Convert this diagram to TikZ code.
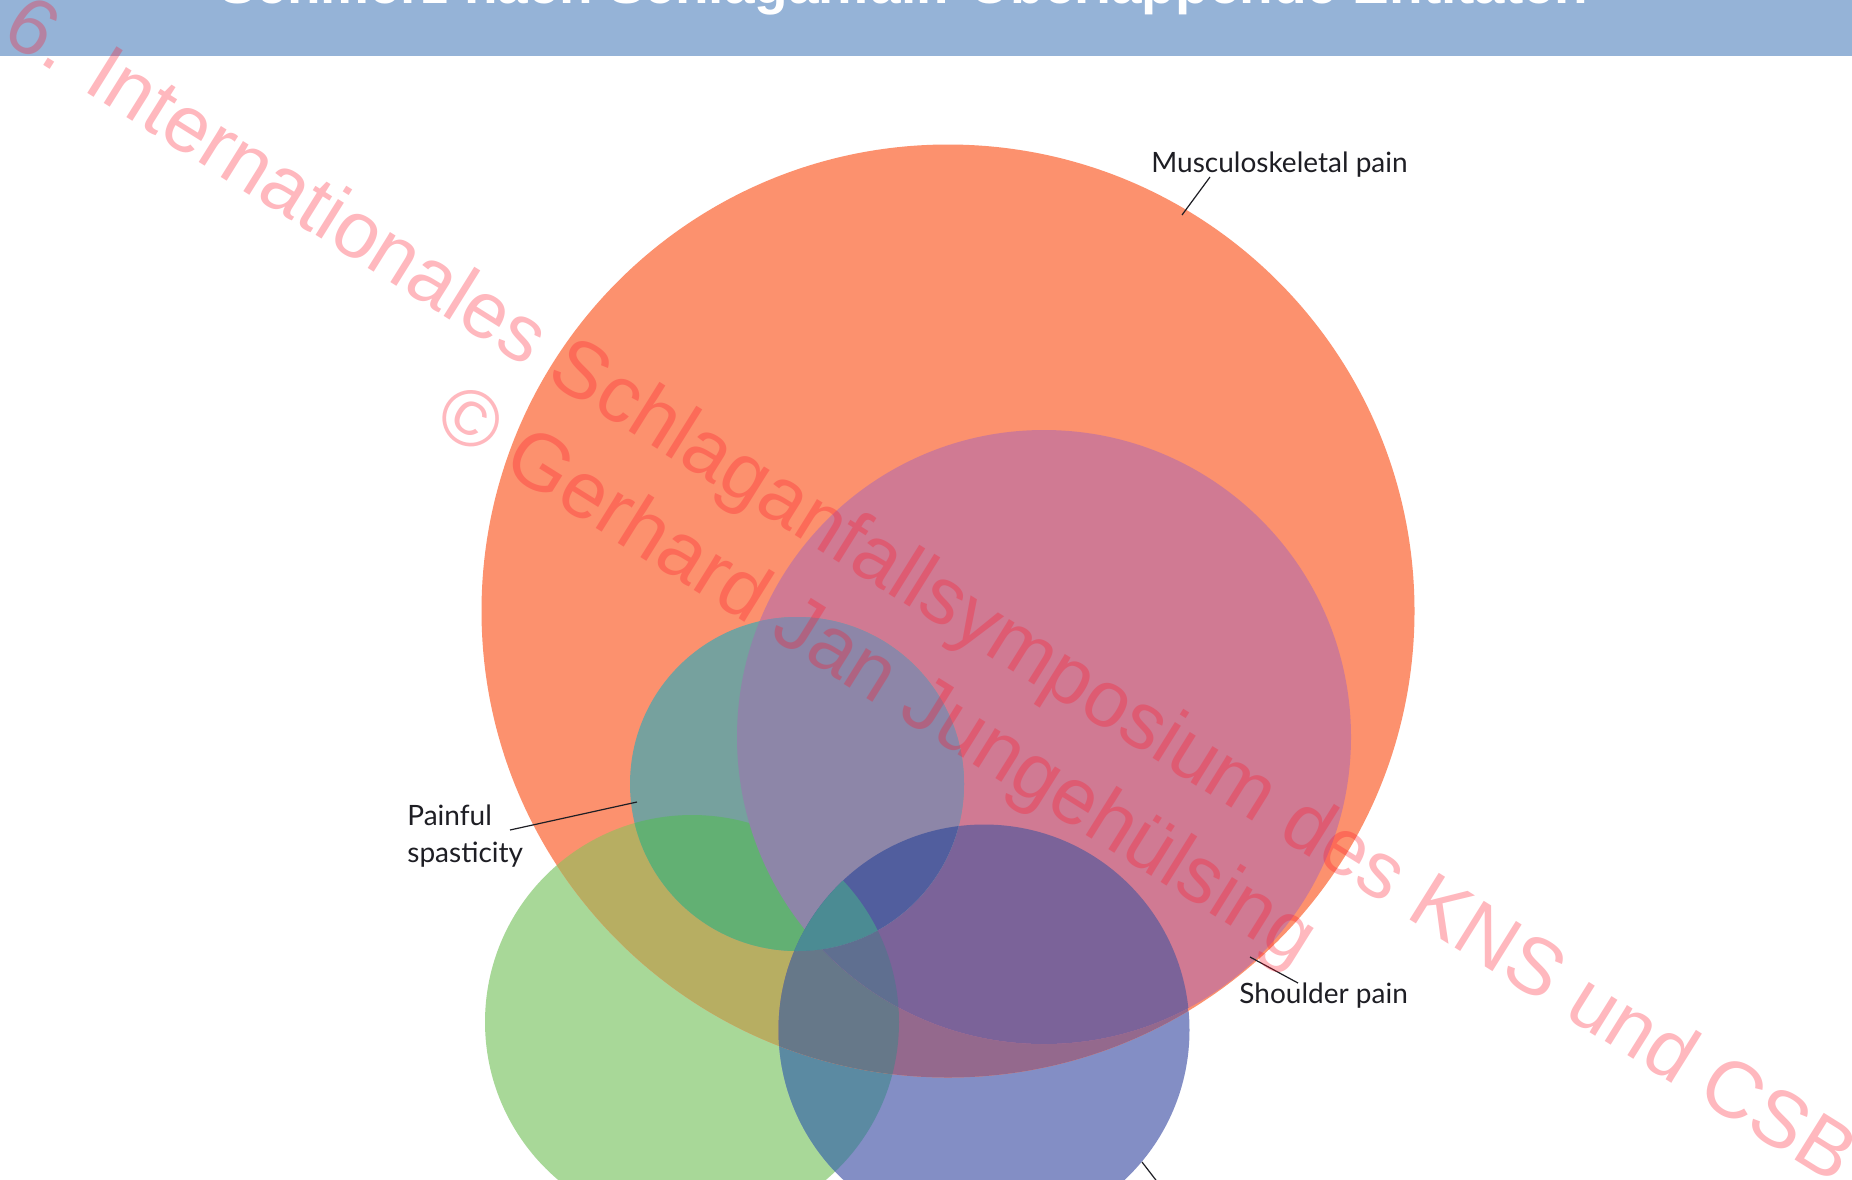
\documentclass[tikz,border=0pt]{standalone}
\usepackage{fontspec}
\setmainfont{Lato}
\newfontfamily\wmfont{Liberation Sans}
\newfontfamily\titlefont{Liberation Sans}
\definecolor{barblue}{HTML}{95B3D7}
\definecolor{cO}{HTML}{FC916E}
\definecolor{cPO}{HTML}{D07A93}
\definecolor{cTO}{HTML}{76A19E}
\definecolor{cTPO}{HTML}{8D86A8}
\definecolor{cG}{HTML}{A8D898}
\definecolor{cB}{HTML}{838EC5}
\definecolor{cGB}{HTML}{5B8AA2}
\definecolor{cGO}{HTML}{B7AE62}
\definecolor{cBO}{HTML}{94698D}
\definecolor{cGBO}{HTML}{667889}
\definecolor{cPB}{HTML}{7B6399}
\definecolor{cPGB}{HTML}{5F6F90}
\definecolor{cTG}{HTML}{62B073}
\definecolor{cTB}{HTML}{515E9E}
\definecolor{cTGB}{HTML}{4B8B93}
\definecolor{wmred}{RGB}{255,20,40}
\definecolor{ink}{HTML}{1E1E24}
\def\cirO{(948,611) circle[radius=233.25pt]}
\def\cirP{(1044,737) circle[radius=153.5pt]}
\def\cirT{(797,784) circle[radius=83.5pt]}
\def\cirG{(692,1022) circle[radius=103.5pt]}
\def\cirB{(984,1030) circle[radius=102.75pt]}
\begin{document}
\begin{tikzpicture}[x=0.5pt,y=-0.5pt,
  lead/.style={draw=ink, line width=0.6pt},
  lbl/.style={font=\fontsize{14}{17}\selectfont, text=ink, inner sep=0pt},
  wm/.style={font=\wmfont\fontsize{40}{48}\selectfont, text=wmred, text opacity=0.3, inner sep=0pt, rotate=-32}]
\useasboundingbox (0,0) rectangle (1852,1179);
\clip (0,0) rectangle (1852,1179);
\fill[white] (0,0) rectangle (1852,1179);
% title bar
\fill[barblue] (0,0) rectangle (1852,56);
\node[anchor=base, font=\titlefont\bfseries\fontsize{27.5}{31}\selectfont, text=white, inner sep=0pt] (title) at (904,3) {Schmerz nach Schlaganfall: Überlappende Entitäten};
% circles
\fill[cG] \cirG;
\fill[cB] \cirB;
\begin{scope}\clip \cirG; \fill[cGB] \cirB; \end{scope}
\fill[cO] \cirO;
\begin{scope}
  \clip \cirO;
  \begin{scope}\clip \cirG; \fill[cGO] \cirG; \end{scope}
  \begin{scope}\clip \cirB; \fill[cBO] \cirB; \end{scope}
  \begin{scope}\clip \cirG; \fill[cGBO] \cirB; \end{scope}
  \fill[cPO] \cirP;
  \begin{scope}\clip \cirP; \fill[cPB] \cirB; \end{scope}
  \begin{scope}\clip \cirP; \clip \cirG; \fill[cPGB] \cirB; \end{scope}
  \fill[cTO] \cirT;
  \begin{scope}\clip \cirT; \fill[cTG] \cirG; \end{scope}
  \begin{scope}\clip \cirT; \fill[cTPO] \cirP; \end{scope}
  \begin{scope}\clip \cirT; \fill[cTB] \cirB; \end{scope}
  \begin{scope}\clip \cirT; \clip \cirG; \fill[cTGB] \cirB; \end{scope}
\end{scope}
% circle anchors (invisible nodes)
\node[circle, minimum size=466.5pt, inner sep=0pt] (musc) at (948,611) {};
\node[circle, minimum size=307pt, inner sep=0pt] (shoulder) at (1044,737) {};
\node[circle, minimum size=167pt, inner sep=0pt] (spast) at (797,784) {};
\node[circle, minimum size=205.5pt, inner sep=0pt] (central) at (984,1030) {};
% labels
\node[lbl, anchor=base west] (lmusc) at (1151,172) {Musculoskeletal pain};
\node[lbl, anchor=base west] (lpain) at (407,825) {Painful};
\node[lbl, anchor=base west] (lspast) at (407,862) {spasticity};
\node[lbl, anchor=base west] (lshoulder) at (1239,1003) {Shoulder pain};
% leader lines
\coordinate (mA) at (1210,177); \coordinate (mB) at (1182,215);
\coordinate (sA) at (510,830); \coordinate (sB) at (637,802);
\coordinate (hA) at (1298,983); \coordinate (hB) at (1250,957);
\coordinate (cA) at (1142,1162); \coordinate (cB) at (1162,1188);
\draw[lead] (mA) -- (mB);
\draw[lead] (sA) -- (sB);
\draw[lead] (hA) -- (hB);
\draw[lead] (cA) -- (cB);
% watermark
\node[wm] (wm1) at (928,594) {6. Internationales Schlaganfallsymposium des KNS und CSB};
\node[wm] (wm2) at (875,679) {© Gerhard Jan Jungehülsing};
\end{tikzpicture}
\end{document}
